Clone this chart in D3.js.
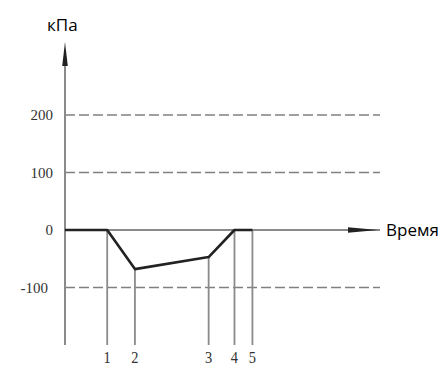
<!DOCTYPE html>
<html>
<head>
<meta charset="utf-8">
<script src="https://cdn.jsdelivr.net/npm/d3@7"></script>
<style>
  body { margin: 0; background: #fff; }
  svg { display: block; }
</style>
</head>
<body>
<div class="chart"></div>
<script>
// values
const times = [0, 13.4, 22.2, 45.6, 53.8, 59.5];
const pressure = [0, 0, -68, -47, 0, 0];
const pointLabels = ['1', '2', '3', '4', '5'];
const tickValues = [200, 100, 0, -100];
const gridValues = [200, 100, -100];
const yTitle = 'кПа';
const xTitle = 'Время';

const width = 443;
const height = 368;

const x = d3.scaleLinear().domain([0, 100]).range([65, 380]);
const y = d3.scaleLinear().domain([-200, 320]).range([345, 46]);

const svg = d3.select('.chart').append('svg')
    .attr('width', width)
    .attr('height', height);

const axisColor = '#8a8a8a';

// dashed grid lines
svg.selectAll('.grid')
  .data(gridValues)
  .enter().append('line')
    .attr('class', 'grid')
    .attr('x1', x(0))
    .attr('x2', x(100))
    .attr('y1', d => y(d))
    .attr('y2', d => y(d))
    .attr('stroke', '#808080')
    .attr('stroke-width', 1.6)
    .attr('stroke-dasharray', '10,4');

// y axis with arrow
svg.append('line')
    .attr('x1', x(0)).attr('x2', x(0))
    .attr('y1', y(-200)).attr('y2', 50)
    .attr('stroke', axisColor)
    .attr('stroke-width', 2);
svg.append('path')
    .attr('d', `M${x(0)},42 L${x(0) + 2.8},66 L${x(0) - 2.8},66 Z`)
    .attr('fill', '#222');

// x axis with arrow
svg.append('line')
    .attr('x1', x(0)).attr('x2', x(100))
    .attr('y1', y(0)).attr('y2', y(0))
    .attr('stroke', axisColor)
    .attr('stroke-width', 2);
svg.append('path')
    .attr('d', `M378,${y(0)} L348,${y(0) - 2.8} L348,${y(0) + 2.8} Z`)
    .attr('fill', '#222');

// tick labels
svg.selectAll('.tick-label')
  .data(tickValues)
  .enter().append('text')
    .attr('class', 'tick-label')
    .attr('x', d => d < 0 ? 48 : 53)
    .attr('y', d => y(d) + 5)
    .attr('text-anchor', 'end')
    .attr('font-family', 'Liberation Serif, serif')
    .attr('font-size', 15)
    .attr('fill', '#333')
    .text(d => d < 0 ? '-' + Math.abs(d) : d);

// drop lines at the marked moments
const points = pointLabels.map((label, i) => ({label, t: times[i + 1], p: pressure[i + 1]}));

svg.selectAll('.drop')
  .data(points)
  .enter().append('line')
    .attr('class', 'drop')
    .attr('x1', d => x(d.t)).attr('x2', d => x(d.t))
    .attr('y1', d => y(d.p)).attr('y2', y(-200))
    .attr('stroke', axisColor)
    .attr('stroke-width', 1.8);

svg.selectAll('.point-label')
  .data(points)
  .enter().append('text')
    .attr('class', 'point-label')
    .attr('transform', d => `translate(${x(d.t)}, 363) scale(0.85, 1)`)
    .attr('text-anchor', 'middle')
    .attr('font-family', 'Liberation Serif, serif')
    .attr('font-size', 17)
    .attr('fill', '#333')
    .text(d => d.label);

// pressure curve
const line = d3.line()
  .x((d, i) => x(times[i]))
  .y(d => y(d));

svg.append('path')
    .attr('d', line(pressure))
    .attr('fill', 'none')
    .attr('stroke', '#222')
    .attr('stroke-width', 2.6)
    .attr('stroke-linejoin', 'round');

// titles
svg.append('text')
    .attr('x', 47)
    .attr('y', 31)
    .attr('font-family', 'Open Sans, sans-serif')
    .attr('font-size', 17)
    .attr('fill', '#000')
    .text(yTitle);

svg.append('text')
    .attr('x', 386)
    .attr('y', y(0) + 6)
    .attr('font-family', 'Open Sans, sans-serif')
    .attr('font-size', 17)
    .attr('fill', '#000')
    .text(xTitle);
</script>
</body>
</html>
